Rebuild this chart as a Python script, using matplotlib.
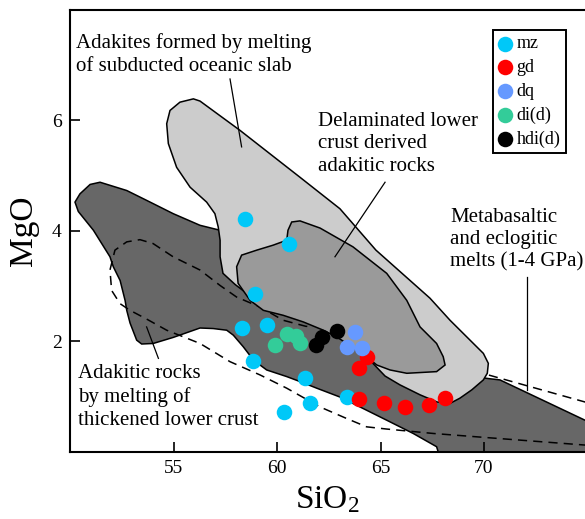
import matplotlib
matplotlib.use("Agg")
import matplotlib.pyplot as plt

# Fonts ----------------------------------------------------------------------
plt.rcParams["font.family"] = ["Liberation Serif", "DejaVu Serif"]
plt.rcParams["mathtext.fontset"] = "custom"
plt.rcParams["mathtext.rm"] = "Liberation Serif"
plt.rcParams["mathtext.it"] = "Liberation Serif:italic"
plt.rcParams["mathtext.default"] = "rm"

# Data -----------------------------------------------------------------------

# Sample groups (SiO2, MgO)
mz_sio2 = [58.45, 60.59, 58.96, 58.29, 59.50, 58.82, 61.35, 61.59, 60.35, 63.37]
mz_mgo = [4.22, 3.77, 2.86, 2.24, 2.30, 1.65, 1.33, 0.875, 0.72, 0.99]

gd_sio2 = [64.33, 63.97, 63.98, 65.16, 66.17, 67.33, 68.13]
gd_mgo = [1.71, 1.51, 0.95, 0.875, 0.81, 0.84, 0.97]

dq_sio2 = [63.77, 63.38, 64.09]
dq_mgo = [2.16, 1.90, 1.87]

did_sio2 = [60.47, 60.92, 61.09, 59.90]
did_mgo = [2.14, 2.09, 1.97, 1.93]

hdid_sio2 = [62.17, 61.89, 62.90]
hdid_mgo = [2.07, 1.93, 2.18]

# Field: adakitic rocks by melting of thickened lower crust (dark)
thick_sio2 = [50.24, 50.48, 50.97, 51.45, 52.74, 53.71, 54.99, 56.28, 57.25,
              58.5, 61.0, 64.0, 67.0, 69.5, 70.3, 70.77, 74.88, 76.0,
              76.0, 68.2, 67.71, 66.58, 65.30, 64.01, 63.04, 61.92, 61.11,
              60.47, 59.50, 58.86, 58.37, 57.89, 57.57, 56.92, 56.28, 54.99,
              54.02, 53.46, 53.22, 52.90, 52.74, 52.66, 52.42, 52.09, 51.93,
              51.13, 50.40]
thick_mgo = [4.52, 4.67, 4.84, 4.88, 4.73, 4.55, 4.31, 4.10, 4.01,
             3.6, 2.9, 2.1, 1.55, 1.36, 1.32, 1.30, 0.57, 0.37,
             -0.5, -0.5, 0.09, 0.33, 0.57, 0.81, 0.99, 1.15, 1.27,
             1.36, 1.48, 1.66, 1.90, 2.11, 2.20, 2.23, 2.24, 2.07,
             1.96, 1.95, 2.02, 2.33, 2.56, 2.74, 3.10, 3.35, 3.53,
             4.01, 4.35]

# Field: adakites from subducted oceanic slab (light)
slab_sio2 = [54.67, 54.83, 55.31, 55.96, 56.28, 58.21, 61.11, 63.04, 64.78,
             67.39, 68.36, 69.97, 70.21, 70.16, 69.97, 69.41, 68.84, 68.36,
             67.73, 66.91, 65.94, 65.22, 64.25, 63.04, 61.11, 59.66, 58.70,
             57.97, 57.39, 57.25, 57.25, 57.16, 57.00, 56.60, 55.80, 55.15,
             54.75]
slab_mgo = [5.94, 6.18, 6.33, 6.39, 6.35, 5.82, 4.97, 4.40, 3.65,
            2.78, 2.38, 1.78, 1.60, 1.42, 1.30, 1.12, 0.97, 0.875,
            0.90, 1.03, 1.21, 1.37, 1.75, 2.20, 2.65, 2.83, 2.82,
            3.03, 3.23, 3.53, 3.83, 4.07, 4.31, 4.52, 4.79, 5.15,
            5.58]

# Field: delaminated lower crust derived adakitic rocks (medium)
delam_sio2 = [60.71, 61.11, 62.08, 63.67, 65.30, 66.27, 66.91, 67.71, 68.03,
              68.12, 67.71, 66.27, 65.46, 64.82, 64.33, 62.88, 62.24, 61.27,
              60.30, 59.34, 58.70, 58.40, 58.12, 58.05, 58.29, 59.02, 59.81,
              60.47, 60.53]
delam_mgo = [4.16, 4.18, 4.05, 3.71, 3.23, 2.74, 2.26, 1.96, 1.72,
             1.57, 1.45, 1.42, 1.48, 1.57, 1.72, 2.08, 2.20, 2.35,
             2.47, 2.56, 2.74, 2.90, 3.05, 3.35, 3.56, 3.65, 3.74,
             3.83, 4.01]

# Field: metabasaltic and eclogitic melts (dashed outline)
melt_sio2 = [76.0, 74.88, 70.21, 68.5, 67.0, 64.5, 62.5, 61.4, 60.3,
             59.18, 58.05, 57.25, 56.28, 54.98, 54.01, 53.38, 52.74, 52.17,
             51.93, 52.01, 52.42, 52.90, 53.71, 54.67, 56.28, 57.73, 59.18,
             60.47, 62.08, 63.37, 64.33, 65.30, 67.55, 69.97, 74.88, 76.0]
melt_mgo = [0.79, 0.90, 1.39, 1.55, 1.70, 1.95, 2.28, 2.27, 2.38,
            2.62, 2.80, 3.01, 3.29, 3.53, 3.77, 3.84, 3.80, 3.65,
            3.29, 2.92, 2.68, 2.56, 2.40, 2.20, 1.96, 1.63, 1.39,
            1.15, 0.81, 0.60, 0.45, 0.41, 0.33, 0.26, 0.12, 0.09]

# Field labels and their leader lines
labels = ["Adakites formed by melting\nof subducted oceanic slab",
          "Delaminated lower\ncrust derived\nadakitic rocks",
          "Metabasaltic\nand eclogitic\nmelts (1-4 GPa)",
          "Adakitic rocks\nby melting of\nthickened lower crust"]
label_xy = [(50.29, 7.58), (62.0, 6.16), (68.36, 4.42), (50.40, 1.58)]
leader_x = [(57.73, 58.29), (65.22, 62.80), (72.09, 72.09), (53.70, 54.27)]
leader_y = [(6.75, 5.52), (4.88, 3.53), (3.16, 1.12), (2.26, 1.69)]

# Plot -----------------------------------------------------------------------
fig = plt.figure(figsize=(5.85, 5.19), dpi=100)
ax = fig.add_axes([0.1197, 0.1297, 0.8803, 0.8511])

# Fields, drawn bottom to top
ax.fill(thick_sio2, thick_mgo, facecolor="#676767", edgecolor="black",
        linewidth=1.1, zorder=1)
ax.plot(melt_sio2, melt_mgo, color="black", linewidth=1.1,
        linestyle=(0, (6, 4)), zorder=2)
ax.fill(slab_sio2, slab_mgo, facecolor="#cccccc", edgecolor="black",
        linewidth=1.1, zorder=3)
ax.fill(delam_sio2, delam_mgo, facecolor="#9a9a9a", edgecolor="black",
        linewidth=1.1, zorder=4)

# Labels
for text, (tx, ty) in zip(labels, label_xy):
    ax.text(tx, ty, text, fontsize=15, ha="left", va="top",
            linespacing=1.25, zorder=6)
for lx, ly in zip(leader_x, leader_y):
    ax.plot(lx, ly, color="black", linewidth=0.9, zorder=5)

# Samples
ax.scatter(mz_sio2, mz_mgo, s=125, color="#00c8f8", linewidths=0, label="mz", zorder=7)
ax.scatter(gd_sio2, gd_mgo, s=125, color="#ff0000", linewidths=0, label="gd", zorder=7)
ax.scatter(dq_sio2, dq_mgo, s=125, color="#6699ff", linewidths=0, label="dq", zorder=7)
ax.scatter(did_sio2, did_mgo, s=125, color="#33cc99", linewidths=0, label="di(d)", zorder=7)
ax.scatter(hdid_sio2, hdid_mgo, s=125, color="black", linewidths=0, label="hdi(d)", zorder=7)

leg = ax.legend(loc="upper right", bbox_to_anchor=(0.9625, 0.9547),
                borderaxespad=0, fontsize=13, scatterpoints=1,
                handlelength=0.7, handletextpad=0.3, labelspacing=0.37,
                borderpad=0.3, fancybox=False, framealpha=1,
                edgecolor="black")
leg.get_frame().set_linewidth(1.4)

# Axes
ax.set_xlim(50, 74.88)
ax.set_ylim(0, 8)
ax.set_xticks([55, 60, 65, 70])
ax.set_yticks([2, 4, 6])
ax.tick_params(direction="in", length=7, width=1.2, labelsize=14, pad=6)
ax.spines["right"].set_visible(False)
for side in ["left", "top", "bottom"]:
    ax.spines[side].set_linewidth(1.5)
ax.set_xlabel(r"SiO$_2$", fontsize=24, labelpad=5)
ax.set_ylabel("MgO", fontsize=24, labelpad=9)

plt.savefig("out.png", dpi=100)
